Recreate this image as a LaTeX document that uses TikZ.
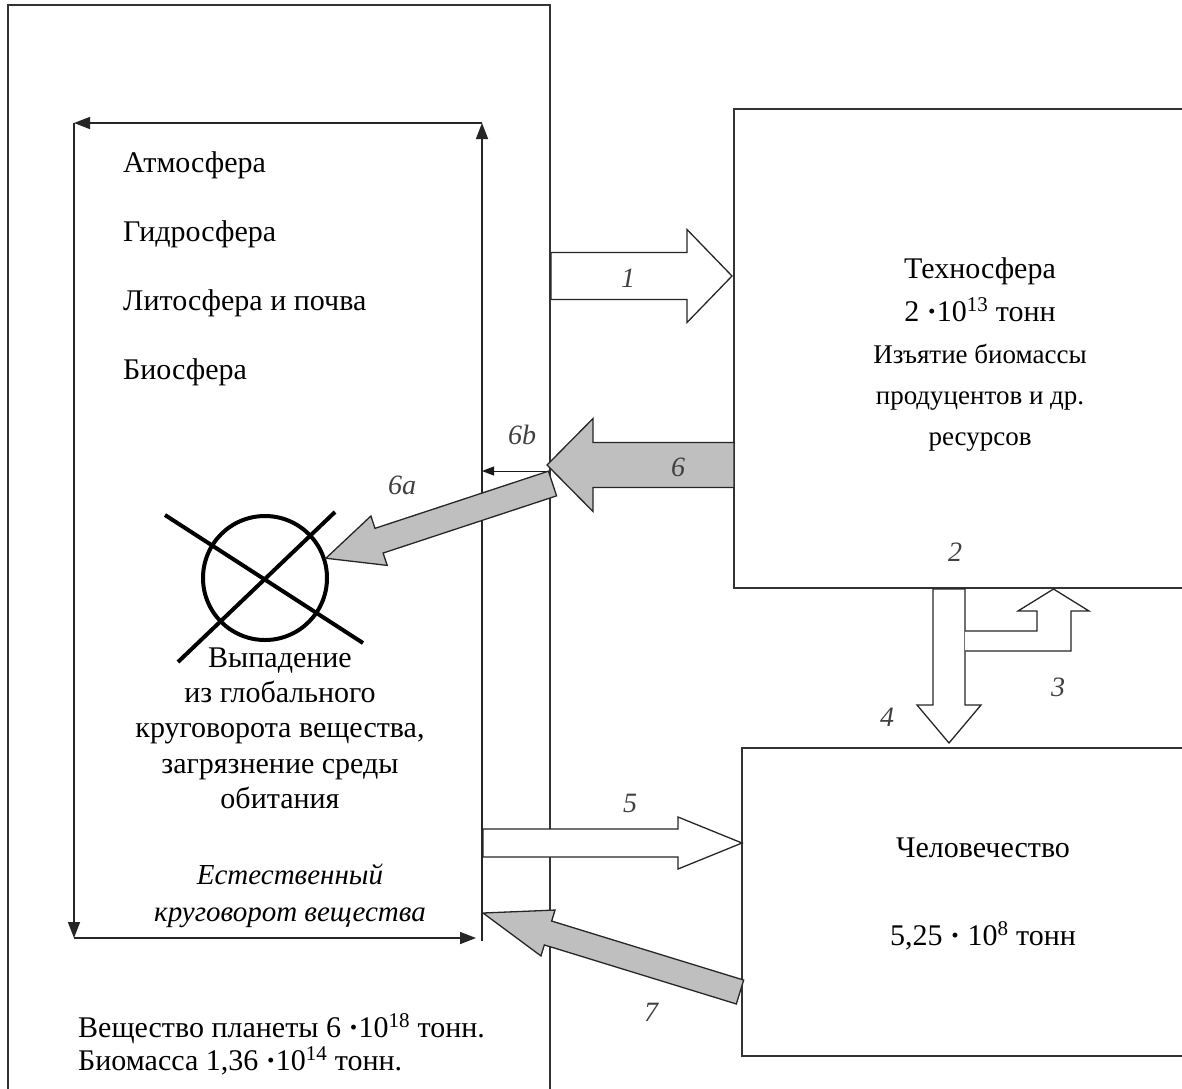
\documentclass[tikz,border=0pt]{standalone}
\usepackage{fontspec}
\setmainfont{Liberation Serif}
\usetikzlibrary{calc,positioning,arrows.meta}

% block arrow: [style]{from}{to}{half shaft}{half head}{head length}
\newcommand{\blockarrow}[6][]{%
  \coordinate (ba-b) at ($(#3)!#6!(#2)$);
  \draw[#1] ($(#2)!#4!90:(#3)$) -- ($(ba-b)!#4!90:(#3)$) -- ($(ba-b)!#5!90:(#3)$)
    -- (#3) -- ($(ba-b)!#5!-90:(#3)$) -- ($(ba-b)!#4!-90:(#3)$) -- ($(#2)!#4!-90:(#3)$) -- cycle;
}

\begin{document}
\begin{tikzpicture}[x=1pt,y=-1pt]
\tikzstyle{box}=[draw=black!80, line width=1.5pt, anchor=north west, inner sep=0, outer sep=0]
\tikzstyle{txt}=[font=\fontsize{30}{36}\selectfont, inner sep=0]
\tikzstyle{sml}=[font=\fontsize{27}{33}\selectfont, inner sep=0]
\tikzstyle{ital}=[font=\fontsize{29}{35}\selectfont\itshape, inner sep=0]
\tikzstyle{num}=[font=\fontsize{28}{34}\selectfont\itshape, text=black!75, inner sep=0]
\tikzstyle{cyc}=[draw=black!85, line width=1.6pt, -{Triangle[length=16pt,width=12pt]}]
\tikzstyle{thin}=[draw=black!90, line width=1pt, -{Triangle[length=12pt,width=9pt]}]
\tikzstyle{hollow}=[draw=black!85, line width=1.3pt, fill=white]
\tikzstyle{grey}=[draw=black!85, line width=1.3pt, fill=black!25]

\clip (0,0) rectangle (1182,1088);

% boxes
\node[box, minimum width=542pt, minimum height=1120pt] (P) at (8,5) {};
\node[box, minimum width=480pt, minimum height=479pt] (T) at (734,109) {};
\node[box, minimum width=480pt, minimum height=308pt] (H) at (742,748) {};

% natural cycle
\coordinate (NW) at (74,123);
\coordinate (NE) at (482,123);
\coordinate (SW) at (74,938);
\coordinate (SE) at (482,938);
\draw[cyc] (NE) -- (NW);
\draw[cyc] (NW) -- (SW);
\draw[cyc] (SW) -- ($(SE)+(-6,0)$);
\draw[cyc] ($(SE)+(0,3)$) -- (NE);

\node[txt, anchor=base west] (atm) at (123,172) {Атмосфера};
\node[txt, anchor=base west] (hyd) at (123,241) {Гидросфера};
\node[txt, anchor=base west] (lit) at (123,310) {Литосфера и почва};
\node[txt, anchor=base west] (bio) at (123,379) {Биосфера};

% dropout symbol
\node[draw, circle, line width=4pt, minimum size=124pt, inner sep=0] (X) at (265,578) {};
\draw[line width=4pt] (165,515) -- (363,643);
\draw[line width=4pt] (335,512) -- (178,662);
\foreach \t [count=\i] in {Выпадение, из глобального, {круговорота вещества,}, загрязнение среды, обитания}
  \node[txt, anchor=base] (drop\i) at (280,{632+35.25*\i}) {\t};

\node[ital, anchor=base] (nat1) at (290,884) {Естественный};
\node[ital, anchor=base] (nat2) at (290,921) {круговорот вещества};

\node[txt, anchor=base west] (mass) at (78,1037) {Вещество планеты 6 \textbf{·}10\textsuperscript{18} тонн.};
\node[txt, anchor=base west] (bmass) at (78,1070) {Биомасса 1,36 \textbf{·}10\textsuperscript{14} тонн.};

% technosphere
\node[txt, anchor=base] (tech) at (980,278) {Техносфера};
\node[txt, anchor=base] (tmass) at (980,321) {2 \textbf{·}10\textsuperscript{13} тонн};
\node[sml, anchor=base] (take1) at (980,363) {Изъятие биомассы};
\node[sml, anchor=base] (take2) at (980,404) {продуцентов и др.};
\node[sml, anchor=base] (take3) at (980,445) {ресурсов};

% humanity
\node[txt, anchor=base] (hum) at (983,857) {Человечество};
\node[txt, anchor=base] (hmass) at (983,945) {5,25 \textbf{·} 10\textsuperscript{8} тонн};

% flows
\coordinate (b6) at (547,471);
\draw[thin] (b6) -- (b6 -| NE);

\coordinate (a6s) at (734,465);
\coordinate (a6e) at (547,465);
\blockarrow[grey]{a6s}{a6e}{22.5pt}{46.5pt}{46pt}

\coordinate (a6as) at (552.5,483.5);
\blockarrow[grey]{a6as}{X.18}{13pt}{26pt}{56pt}

\coordinate (a1s) at (551,276);
\coordinate (a1e) at (732,276);
\blockarrow[hollow]{a1s}{a1e}{23.5pt}{46.5pt}{45pt}

\coordinate (a5s) at (483,843);
\coordinate (a5e) at (742,843);
\blockarrow[hollow]{a5s}{a5e}{14pt}{26pt}{64pt}

\coordinate (a7s) at (740,992);
\coordinate (a7e) at (483,913);
\blockarrow[grey]{a7s}{a7e}{12.5pt}{24pt}{68pt}

\coordinate (a4s) at (949,589);
\coordinate (a4e) at (949,743);
\blockarrow[hollow]{a4s}{a4e}{16pt}{32pt}{38pt}

\draw[hollow] (965,631) -- (1037,631) -- (1037,611) -- (1018,611) -- (1053.5,589)
  -- (1089,611) -- (1071,611) -- (1071,651) -- (965,651);

% labels
\node[num] (l1) at (628,278) {1};
\node[num] (l2) at (955,552) {2};
\node[num] (l3) at (1058,687) {3};
\node[num] (l4) at (887,717) {4};
\node[num] (l5) at (630,803) {5};
\node[num] (l6) at (678,467) {6};
\node[num] (l6a) at (402,485) {6a};
\node[num] (l6b) at (522,435) {6b};
\node[num] (l7) at (651,1012) {7};
\end{tikzpicture}
\end{document}
